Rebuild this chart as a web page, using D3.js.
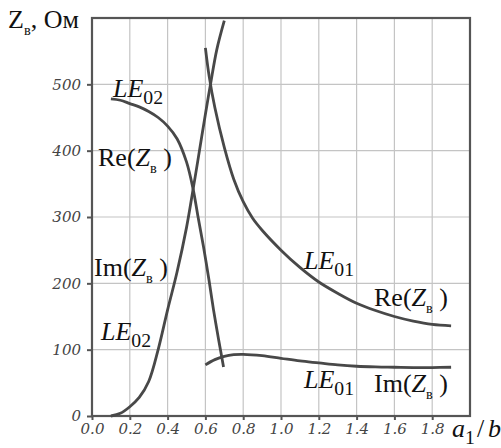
<!DOCTYPE html>
<html>
<head>
<meta charset="utf-8">
<script src="https://cdn.jsdelivr.net/npm/d3@7"></script>
<style>
  body { margin:0; background:#fff; }
</style>
</head>
<body>
<svg id="viz" width="501" height="448"></svg>
<script>
const SERIF = "'Liberation Serif','DejaVu Serif','Times New Roman',serif";

// values: [a1/b, Ohm]
const reLE02 = [[0.10,478],[0.15,476],[0.20,471],[0.25,466],[0.30,459],[0.35,450],[0.40,437],[0.45,418],[0.50,383],[0.535,342],[0.56,302],[0.59,255],[0.62,203],[0.643,160],[0.67,115],[0.696,74]];
const imLE02 = [[0.10,0],[0.15,4],[0.20,14],[0.25,28],[0.30,52],[0.35,100],[0.40,160],[0.45,217],[0.50,284],[0.535,342],[0.56,385],[0.60,455],[0.627,500],[0.66,552],[0.70,596]];
const reLE01 = [[0.60,555],[0.62,512],[0.65,465],[0.70,405],[0.75,357],[0.80,323],[0.85,298],[0.90,280],[1.00,250],[1.10,224],[1.20,202],[1.30,185],[1.40,170],[1.50,159],[1.60,150],[1.70,143],[1.80,138],[1.90,136]];
const imLE01 = [[0.60,77],[0.65,85],[0.70,90],[0.75,92.5],[0.80,93],[0.90,91],[1.00,87],[1.10,83],[1.20,80],[1.30,77],[1.40,75],[1.50,74],[1.60,73.5],[1.70,73],[1.80,73],[1.90,73.5]];
const xTicks = [0,0.2,0.4,0.6,0.8,1.0,1.2,1.4,1.6,1.8];
const yTicks = [0,100,200,300,400,500];
const xGrid = [0.2,0.4,0.6,0.8,1.0,1.2,1.4,1.6,1.8];
const yGrid = [100,200,300,400,500];

// curve labels: parts of text, i = italic, s = subscript
const labels = [
  {x:113, y:97,  parts:[{t:"LE",i:1},{t:"02",s:1}]},
  {x:98,  y:166, parts:[{t:"Re("},{t:"Z",i:1},{t:"в",s:1},{t:" )"}]},
  {x:94,  y:276, parts:[{t:"Im("},{t:"Z",i:1},{t:"в",s:1},{t:" )"}]},
  {x:101, y:340, parts:[{t:"LE",i:1},{t:"02",s:1}]},
  {x:304, y:269, parts:[{t:"LE",i:1},{t:"01",s:1}]},
  {x:374, y:306, parts:[{t:"Re("},{t:"Z",i:1},{t:"в",s:1},{t:" )"}]},
  {x:304, y:388, parts:[{t:"LE",i:1},{t:"01",s:1}]},
  {x:374, y:392, parts:[{t:"Im("},{t:"Z",i:1},{t:"в",s:1},{t:" )"}]}
];

const svg = d3.select("#viz");
const x = d3.scaleLinear().domain([0,2]).range([92,470]);
const y = d3.scaleLinear().domain([0,600]).range([416,18]);

// grid
svg.append("g").selectAll("line").data(xGrid).join("line")
  .attr("x1",d=>x(d)).attr("x2",d=>x(d)).attr("y1",y(0)).attr("y2",y(600))
  .attr("stroke","#c4c4c4").attr("stroke-width",1.2);
svg.append("g").selectAll("line").data(yGrid).join("line")
  .attr("y1",d=>y(d)).attr("y2",d=>y(d)).attr("x1",x(0)).attr("x2",x(2))
  .attr("stroke","#c4c4c4").attr("stroke-width",1.2);

// axes (ticks + labels)
const ax = svg.append("g").attr("transform",`translate(0,${y(0)})`)
  .call(d3.axisBottom(x).tickValues(xTicks).tickFormat(d3.format(".1f")).tickSize(4).tickPadding(6));
const ay = svg.append("g").attr("transform",`translate(${x(0)},0)`)
  .call(d3.axisLeft(y).tickValues(yTicks).tickSize(5).tickPadding(6));
[ax,ay].forEach(a=>{
  a.attr("font-family",null).attr("font-size",null);
  a.select(".domain").remove();
  a.selectAll(".tick line").attr("stroke","#555").attr("stroke-width",2);
  a.selectAll(".tick text").attr("style",`font-family:'DejaVu Serif',serif;font-style:italic;font-size:15px;fill:#444`);
});
ay.selectAll(".tick text").attr("dy","0.33em");
ax.selectAll(".tick text").attr("dy","0.55em");

// frame
svg.append("rect").attr("x",x(0)).attr("y",y(600)).attr("width",x(2)-x(0)).attr("height",y(0)-y(600))
  .attr("fill","none").attr("stroke","#555").attr("stroke-width",2.2);

// curves
const line = d3.line().x(d=>x(d[0])).y(d=>y(d[1])).curve(d3.curveCatmullRom.alpha(0.5));
svg.append("g").selectAll("path").data([reLE02,imLE02,reLE01,imLE01]).join("path")
  .attr("d",line).attr("fill","none").attr("stroke","#484848").attr("stroke-width",2.8);

// rich text helper
function rich(g, px, py, parts, size){
  const t = g.append("text").attr("x",px).attr("y",py)
    .attr("style",`font-family:${SERIF};font-size:${size}px;fill:#111`);
  let down = false;
  parts.forEach(p=>{
    const s = t.append("tspan").text(p.t);
    if(p.i) s.style("font-style","italic");
    if(p.s){
      s.style("font-size",(size*(p.t==="в"?0.55:0.76))+"px");
      if(!down){ s.attr("dy",size*0.25); down=true; }
    } else if(down){ s.attr("dy",-size*0.25); down=false; }
  });
  return t;
}
const lg = svg.append("g");
labels.forEach(l=>rich(lg,l.x,l.y,l.parts,26));

// axis titles
rich(svg,8,28,[{t:"Z"},{t:"в",s:1},{t:", Ом"}],26);
rich(svg,452,437,[{t:"a",i:1},{t:"1",s:1}],26);
rich(svg,477,437,[{t:"/"}],26);
rich(svg,488,437,[{t:"b",i:1}],26);
</script>
</body>
</html>
